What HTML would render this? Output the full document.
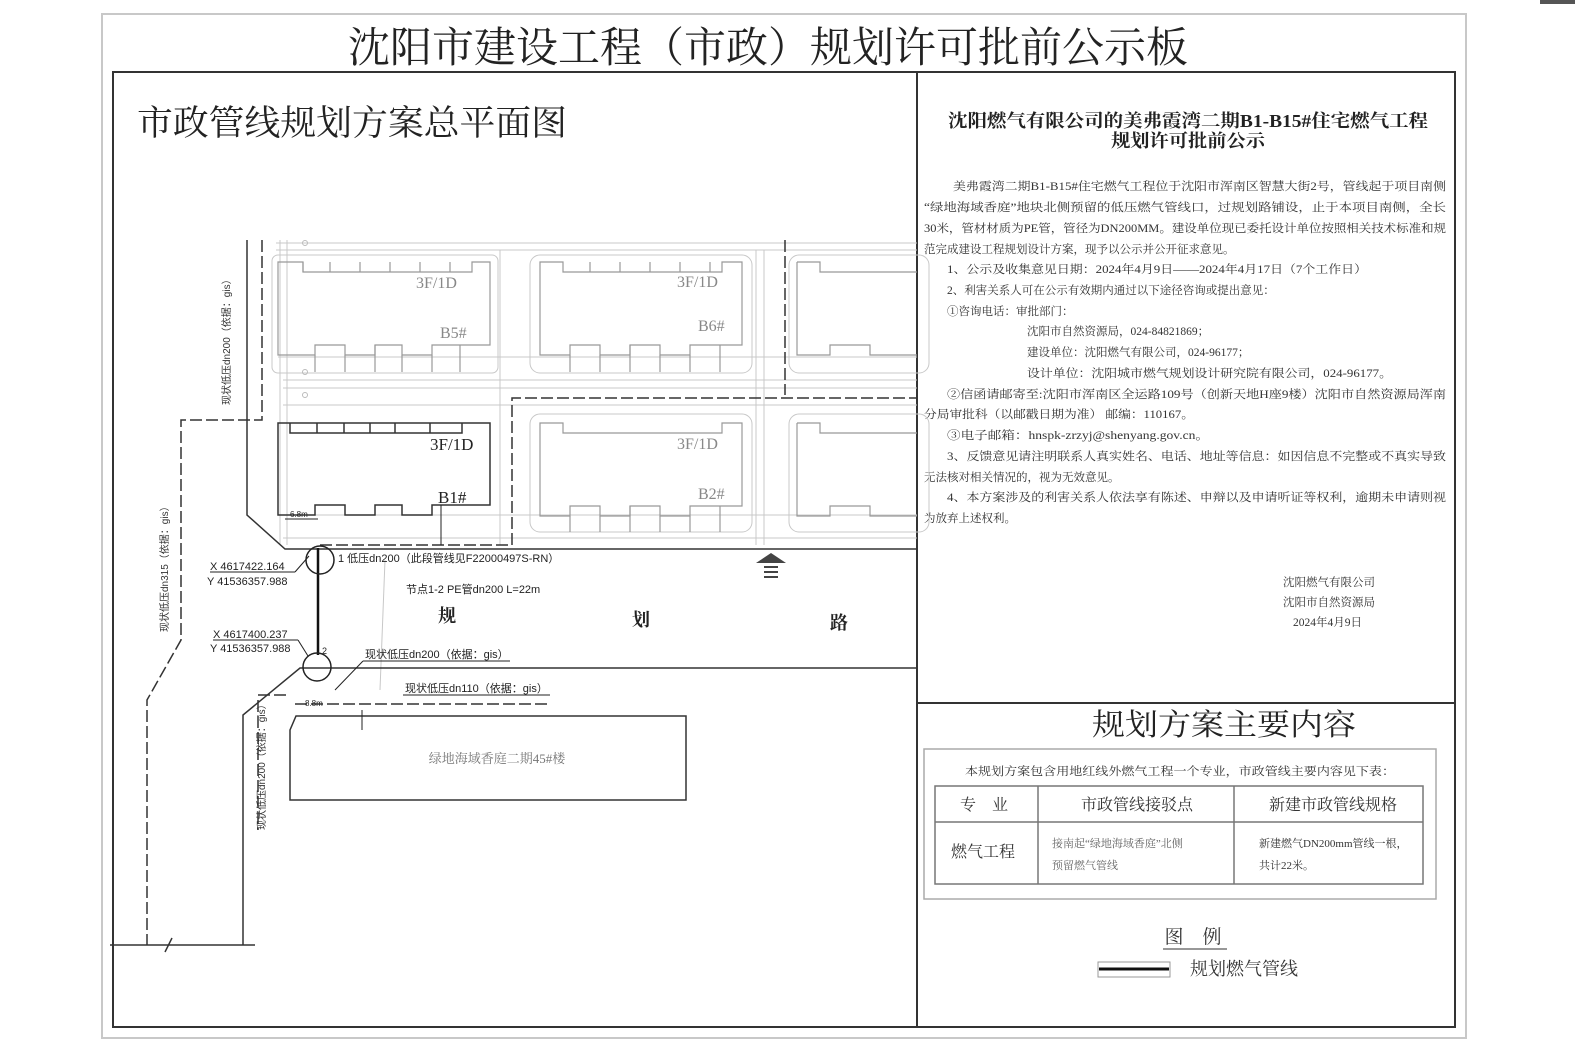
<!DOCTYPE html>
<html><head><meta charset="utf-8"><style>
html,body{margin:0;padding:0;background:#fff;}
svg{display:block;}
text{font-family:"Liberation Serif","Noto Serif CJK SC","Noto Sans CJK SC",serif;}
.s text{font-family:"Liberation Sans","Noto Sans CJK SC",sans-serif;}
</style></head><body>
<svg width="1575" height="1057" viewBox="0 0 1575 1057" xmlns="http://www.w3.org/2000/svg">
<rect x="0" y="0" width="1575" height="1057" fill="#fff"/>
<rect x="1540" y="0" width="35" height="4" fill="#555"/>
<rect x="102" y="14" width="1364" height="1024" fill="#fff" stroke="#c8c8c8" stroke-width="2"/>
<text x="768" y="62" font-size="42" text-anchor="middle" fill="#222" textLength="840" lengthAdjust="spacingAndGlyphs">沈阳市建设工程（市政）规划许可批前公示板</text>
<rect x="113" y="72" width="1342" height="955" fill="#fff" stroke="#333" stroke-width="2"/>
<line x1="917" y1="72" x2="917" y2="1027" stroke="#333" stroke-width="2"/>
<line x1="917" y1="703" x2="1455" y2="703" stroke="#333" stroke-width="2"/>
<text x="137" y="135" font-size="35" fill="#222" textLength="430" lengthAdjust="spacingAndGlyphs">市政管线规划方案总平面图</text>

<g fill="#222" font-size="18" font-weight="bold" text-anchor="middle">
<text x="1188" y="127" textLength="480" lengthAdjust="spacingAndGlyphs">沈阳燃气有限公司的美弗霞湾二期B1-B15#住宅燃气工程</text>
<text x="1188" y="147" textLength="154" lengthAdjust="spacingAndGlyphs">规划许可批前公示</text>
</g>
<g fill="#333" font-size="11.5">
<text x="953" y="190" textLength="493" lengthAdjust="spacingAndGlyphs">美弗霞湾二期B1-B15#住宅燃气工程位于沈阳市浑南区智慧大街2号，管线起于项目南侧</text>
<text x="924" y="211" textLength="522" lengthAdjust="spacingAndGlyphs">“绿地海域香庭”地块北侧预留的低压燃气管线口，过规划路铺设，止于本项目南侧，全长</text>
<text x="924" y="232" textLength="522" lengthAdjust="spacingAndGlyphs">30米，管材材质为PE管，管径为DN200MM。建设单位现已委托设计单位按照相关技术标准和规</text>
<text x="924" y="253">范完成建设工程规划设计方案，现予以公示并公开征求意见。</text>
<text x="947" y="273" textLength="420" lengthAdjust="spacingAndGlyphs">1、公示及收集意见日期：2024年4月9日——2024年4月17日（7个工作日）</text>
<text x="947" y="294">2、利害关系人可在公示有效期内通过以下途径咨询或提出意见：</text>
<text x="947" y="315">①咨询电话：审批部门：</text>
<text x="1027" y="335">沈阳市自然资源局，024-84821869；</text>
<text x="1027" y="356">建设单位：沈阳燃气有限公司，024-96177；</text>
<text x="1027" y="377" textLength="365" lengthAdjust="spacingAndGlyphs">设计单位：沈阳城市燃气规划设计研究院有限公司，024-96177。</text>
<text x="947" y="398" textLength="499" lengthAdjust="spacingAndGlyphs">②信函请邮寄至:沈阳市浑南区全运路109号（创新天地H座9楼）沈阳市自然资源局浑南</text>
<text x="924" y="418" textLength="270" lengthAdjust="spacingAndGlyphs">分局审批科（以邮戳日期为准） 邮编：110167。</text>
<text x="947" y="439" textLength="262" lengthAdjust="spacingAndGlyphs">③电子邮箱：hnspk-zrzyj@shenyang.gov.cn。</text>
<text x="947" y="460" textLength="499" lengthAdjust="spacingAndGlyphs">3、反馈意见请注明联系人真实姓名、电话、地址等信息：如因信息不完整或不真实导致</text>
<text x="924" y="481">无法核对相关情况的，视为无效意见。</text>
<text x="947" y="501" textLength="499" lengthAdjust="spacingAndGlyphs">4、本方案涉及的利害关系人依法享有陈述、申辩以及申请听证等权利，逾期未申请则视</text>
<text x="924" y="522">为放弃上述权利。</text>
<text x="1283" y="586">沈阳燃气有限公司</text>
<text x="1283" y="606">沈阳市自然资源局</text>
<text x="1293" y="626">2024年4月9日</text>
</g>
<text x="1224" y="735" font-size="30" text-anchor="middle" fill="#222" textLength="264" lengthAdjust="spacingAndGlyphs">规划方案主要内容</text>
<rect x="924" y="749" width="512" height="150" fill="none" stroke="#aaa" stroke-width="1.5"/>
<text x="1180" y="775" font-size="11.5" text-anchor="middle" fill="#333" textLength="430" lengthAdjust="spacingAndGlyphs">本规划方案包含用地红线外燃气工程一个专业，市政管线主要内容见下表：</text>
<g stroke="#777" stroke-width="1.5" fill="none">
<rect x="935" y="786" width="488" height="98"/>
<line x1="935" y1="822" x2="1423" y2="822"/>
<line x1="1038" y1="786" x2="1038" y2="884"/>
<line x1="1234" y1="786" x2="1234" y2="884"/>
</g>
<g fill="#333">
<text x="984" y="810" font-size="16" text-anchor="middle">专　业</text>
<text x="1137" y="810" font-size="16" text-anchor="middle">市政管线接驳点</text>
<text x="1333" y="810" font-size="16" text-anchor="middle">新建市政管线规格</text>
<text x="983" y="857" font-size="16" text-anchor="middle">燃气工程</text>
<text x="1052" y="847" font-size="11" fill="#666">接南起“绿地海域香庭”北侧</text>
<text x="1052" y="869" font-size="11" fill="#666">预留燃气管线</text>
<text x="1259" y="847" font-size="11">新建燃气DN200mm管线一根，</text>
<text x="1259" y="869" font-size="11">共计22米。</text>
<text x="1193" y="943" font-size="19" text-anchor="middle">图　例</text>
<text x="1190" y="975" font-size="18">规划燃气管线</text>
</g>
<line x1="1163" y1="949" x2="1227" y2="949" stroke="#777" stroke-width="1.5"/>
<rect x="1098" y="962" width="72" height="15" fill="#fff" stroke="#999"/>
<line x1="1099" y1="969" x2="1169" y2="969" stroke="#111" stroke-width="3"/>

<g stroke="#c8c8c8" stroke-width="1" fill="none">
<line x1="276" y1="243" x2="917" y2="243"/>
<line x1="276" y1="250" x2="917" y2="250"/>
<line x1="283" y1="380" x2="917" y2="380"/>
<line x1="283" y1="388" x2="917" y2="388"/>
<line x1="283" y1="405" x2="917" y2="405"/>
<line x1="283" y1="538" x2="917" y2="538"/>
<line x1="280" y1="240" x2="280" y2="545"/>
<line x1="287" y1="240" x2="287" y2="545"/>
<rect x="530" y="255" width="222" height="118" rx="10"/>
<rect x="789" y="255" width="140" height="118" rx="10"/>
<rect x="530" y="414" width="222" height="118" rx="10"/>
<rect x="789" y="414" width="140" height="118" rx="10"/>
<rect x="272" y="255" width="226" height="118" rx="6"/>
<line x1="278" y1="357" x2="917" y2="357"/>
<line x1="278" y1="515" x2="917" y2="515"/>
<line x1="756" y1="250" x2="756" y2="545"/>
<line x1="764" y1="250" x2="764" y2="545"/>
<line x1="500" y1="250" x2="500" y2="545"/>
<line x1="385" y1="560" x2="380" y2="690"/>
</g>
<g stroke="#bbb" stroke-width="1" fill="none">
<circle cx="305" cy="243" r="2.5"/><circle cx="305" cy="395" r="2.5"/><circle cx="305" cy="372" r="2.5"/>
</g>
<g stroke="#999" stroke-width="1.2" fill="none">
<path d="M278,262 H303 V272 H472 V262 H490 V345 H432 V355 H402 V345 H375 V355 H345 V345 H315 V355 H278 Z"/>
<path d="M540,262 H563 V272 H722 V262 H742 V345 H690 V355 H660 V345 H630 V355 H600 V345 H570 V355 H540 Z"/>
<path d="M797,262 H820 V272 H917 M797,262 V355 H830 V345 H870 V355 H917"/>
<path d="M540,423 H563 V433 H722 V423 H742 V506 H690 V516 H660 V506 H630 V516 H600 V506 H570 V516 H540 Z"/>
<path d="M797,423 H820 V433 H917 M797,423 V516 H830 V506 H870 V516 H917"/>
<path d="M315,355 V372 M345,355 V372 M375,345 V372 M402,355 V372 M432,355 V372 M460,345 V372"/>
<path d="M570,355 V372 M600,355 V372 M630,345 V372 M660,355 V372 M690,355 V372 M720,345 V372"/>
<path d="M570,516 V532 M600,516 V532 M630,506 V532 M660,516 V532 M690,516 V532 M720,506 V532"/>
<path d="M303,262 V272 M330,262 V272 M360,262 V272 M390,262 V272 M420,262 V272 M450,262 V272"/>
<path d="M590,262 V272 M620,262 V272 M650,262 V272 M680,262 V272 M710,262 V272"/>
</g>
<path d="M278,423 H490 V505 H432 V515 H402 V505 H375 V515 H345 V505 H315 V515 H278 Z M290,423 V433 H462 V423 M317,423 V433 M344,423 V433 M370,423 V433 M395,423 V433 M430,423 V433" stroke="#333" stroke-width="1.5" fill="none"/>
<g font-size="16" fill="#888">
<text x="416" y="288">3F/1D</text><text x="440" y="338">B5#</text>
<text x="677" y="287">3F/1D</text><text x="698" y="331">B6#</text>
<text x="677" y="449">3F/1D</text><text x="698" y="499">B2#</text>
</g>
<g font-size="17" fill="#222"><text x="430" y="450">3F/1D</text><text x="438" y="503">B1#</text></g>

<g stroke="#333" stroke-width="1.5" fill="none">
<path d="M247,240 V515 L285,549 H917"/>
<path d="M917,668 H300 L243,715 V945"/>
<line x1="110" y1="945" x2="255" y2="945"/>
<line x1="165" y1="952" x2="172" y2="938"/>
</g>
<g stroke="#333" stroke-width="1.5" fill="none" stroke-dasharray="12,4">
<path d="M262,240 V420 H181 V640 L147,700 V945"/>
<path d="M320,545 H512 V398 H917"/>
<path d="M785,240 V395"/>
<path d="M258,695 H290 M295,704 H550"/>
<path d="M258,700 V830"/>
</g>
<path d="M296,716 H686 V800 H290 V730 Z" stroke="#333" stroke-width="1.5" fill="none"/>
<text x="497" y="763" font-size="13" fill="#777" text-anchor="middle">绿地海域香庭二期45#楼</text>
<line x1="318" y1="548" x2="318" y2="655" stroke="#111" stroke-width="2.5"/>
<circle cx="320" cy="560" r="14" fill="none" stroke="#222" stroke-width="1.5"/>
<circle cx="317" cy="667" r="14" fill="none" stroke="#222" stroke-width="1.5"/>
<g class="s" fill="#222">
<text x="210" y="570" font-size="11">X 4617422.164</text>
<text x="207" y="585" font-size="11">Y 41536357.988</text>
<text x="213" y="638" font-size="11">X 4617400.237</text>
<text x="210" y="652" font-size="11">Y 41536357.988</text>
<text x="338" y="562" font-size="11">1 低压dn200（此段管线见F22000497S-RN）</text>
<text x="406" y="593" font-size="11">节点1-2 PE管dn200 L=22m</text>
<text x="322" y="654" font-size="9">2</text>
<text x="365" y="658" font-size="11">现状低压dn200（依据：gis）</text>
<text x="405" y="692" font-size="11">现状低压dn110（依据：gis）</text>
<text x="290" y="517" font-size="8">6.8m</text>
<text x="305" y="706" font-size="8">8.8m</text>
</g>
<g stroke="#222" stroke-width="1" fill="none">
<line x1="210" y1="572" x2="295" y2="572"/><line x1="295" y1="572" x2="309" y2="556"/>
<line x1="213" y1="640" x2="298" y2="640"/><line x1="298" y1="640" x2="308" y2="656"/>
<line x1="363" y1="661" x2="510" y2="661"/><line x1="363" y1="661" x2="335" y2="690"/>
<line x1="403" y1="695" x2="550" y2="695"/>
<line x1="285" y1="519" x2="318" y2="519"/><line x1="441" y1="505" x2="441" y2="545"/>
<line x1="362" y1="710" x2="362" y2="730"/>
</g>
<g font-size="18" font-weight="bold" fill="#222">
<text x="438" y="622">规</text><text x="632" y="626">划</text><text x="830" y="629">路</text>
</g>
<g fill="#444"><polygon points="771,553 786,563 756,563"/><rect x="764" y="566" width="14" height="2"/><rect x="764" y="571" width="14" height="2"/><rect x="764" y="576" width="14" height="2"/></g>
<g class="s" fill="#333">
<text font-size="10" transform="translate(230,405) rotate(-90)">现状低压dn200（依据：gis）</text>
<text font-size="10" transform="translate(168,632) rotate(-90)">现状低压dn315（依据：gis）</text>
<text font-size="10" transform="translate(265,830) rotate(-90)">现状低压dn200（依据：gis）</text>
</g>
</svg>
</body></html>
